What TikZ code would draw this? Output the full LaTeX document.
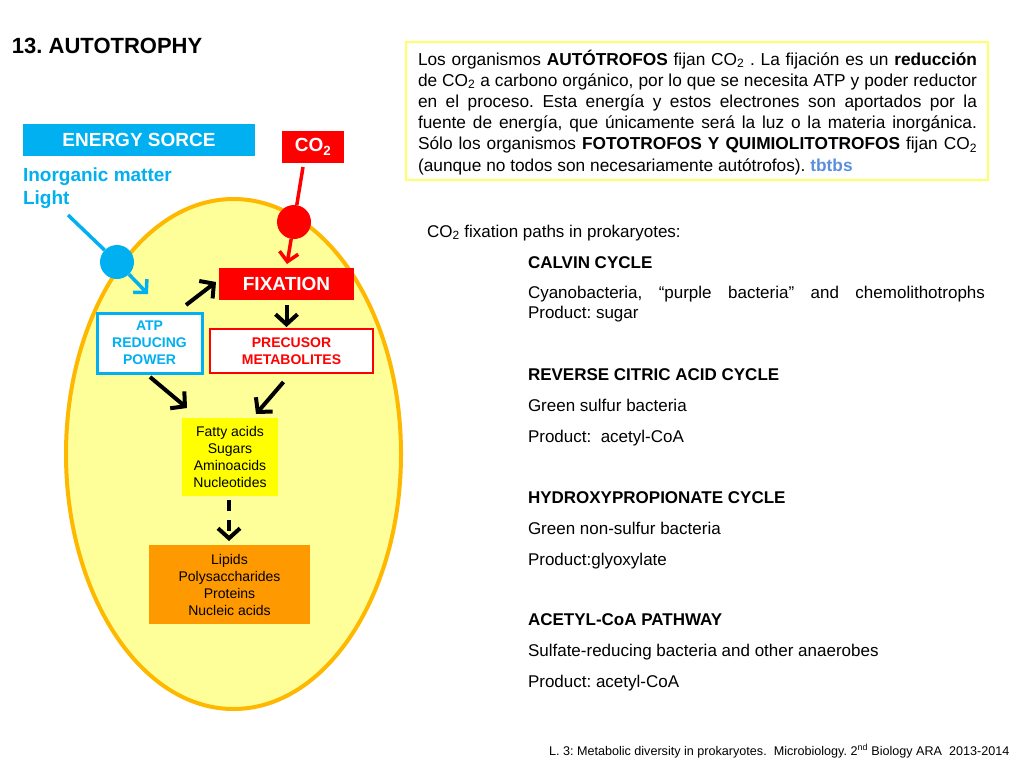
\documentclass[tikz,border=0pt]{standalone}
\usepackage{fontspec}
\setmainfont{Liberation Sans}
\usetikzlibrary{arrows.meta}
\definecolor{cyanb}{HTML}{00B0F0}
\definecolor{redb}{HTML}{FF0000}
\definecolor{ellfill}{HTML}{FFFF99}
\definecolor{ellborder}{HTML}{FFB800}
\definecolor{yel}{HTML}{FFFF00}
\definecolor{orng}{HTML}{FF9900}
\definecolor{boxborder}{HTML}{FFFF66}
\definecolor{tbc}{HTML}{5B8FDD}
\newcommand{\fs}[2]{\fontsize{#1}{#2}\selectfont}
\frenchspacing
\begin{document}
\begin{tikzpicture}[x=1pt,y=-1pt,
  every node/.style={inner sep=0pt,outer sep=0pt},
  hdrbox/.style={fill=#1,text=white,font=\fs{19}{22}\bfseries,minimum height=32pt},
  smallbox/.style={font=\fs{14}{17}\bfseries,align=center},
  listtxt/.style={anchor=base west,font=\fs{17}{20}},
  boxtxt/.style={anchor=base west,font=\fs{17.3}{21}},
  blkarrow/.style={line width=4pt,-{Straight Barb[length=10pt,width=22pt,line width=4pt]}},
  colarrow/.style={line width=3.5pt,#1,-{Straight Barb[length=9pt,width=19pt,line width=3.5pt]}},
  dot/.style={circle,fill=#1,minimum size=34pt}
]
\useasboundingbox (0,0) rectangle (1024,768);
\fill[white] (0,0) rectangle (1024,768);

% title
\node[anchor=base west,font=\fs{22}{26}\bfseries] (title) at (12,54) {13. AUTOTROPHY};

% cell
\draw[ellborder,line width=4pt,fill=ellfill] (233.5,454) ellipse [x radius=167.5pt,y radius=255pt];

% energy source
\node[hdrbox=cyanb,minimum width=232pt] (energy) at (139,140) {ENERGY SORCE};
\node[anchor=base west,font=\fs{19}{23}\bfseries,text=cyanb] (inorg) at (23,181) {Inorganic matter};
\node[anchor=base west,font=\fs{19}{23}\bfseries,text=cyanb] (light) at (23,204) {Light};

% CO2
\node[hdrbox=redb,minimum width=62pt] (co2) at (313,147) {CO\textsubscript{2}};

% circles
\node[dot=cyanb] (bc) at (117,262) {};
\node[dot=redb] (rc) at (294,222) {};

% boxes
\node[hdrbox=redb,minimum width=135pt] (fix) at (286.5,284) {FIXATION};
\node[smallbox,draw=cyanb,line width=3pt,fill=white,text=cyanb,minimum width=105pt,minimum height=60pt] (atp) at (149.5,343) {ATP\\REDUCING\\POWER};
\node[smallbox,draw=redb,line width=2.5pt,fill=white,text=redb,minimum width=163pt,minimum height=44pt] (prec) at (291.5,351) {PRECUSOR\\METABOLITES};
\node[font=\fs{14}{17},align=center,fill=yel,minimum width=96pt,minimum height=78pt] (fatty) at (230,457) {Fatty acids\\Sugars\\Aminoacids\\Nucleotides};
\node[font=\fs{14}{17},align=center,fill=orng,minimum width=161pt,minimum height=79pt] (lipids) at (229.5,584.5) {Lipids\\Polysaccharides\\Proteins\\Nucleic acids};

% connectors
\coordinate (lstart) at (68,215);
\coordinate (atpin) at (148,294);
\draw[cyanb,line width=3.5pt] (lstart) -- (bc);
\draw[colarrow=cyanb] (bc) -- (atpin);
\draw[redb,line width=3.5pt] ([xshift=-10pt,yshift=-4pt]co2.south) -- (rc);
\draw[colarrow=redb] (rc) -- ([xshift=0.5pt,yshift=4pt]fix.north);
\draw[blkarrow] ([xshift=-16pt,yshift=8pt]atp.north east) -- ([xshift=-3pt,yshift=2pt]fix.west);
\draw[blkarrow] ([yshift=-5pt]fix.south) -- ([yshift=2pt]fix.south |- prec.north);
\draw[blkarrow] ([xshift=0.5pt,yshift=-4pt]atp.south) -- ([xshift=5pt,yshift=10pt]fatty.north west);
\draw[blkarrow] ([xshift=-8pt,yshift=-9pt]prec.south) -- ([xshift=-22pt,yshift=4pt]fatty.north east);
\draw[blkarrow,dash pattern=on 11pt off 9pt] ([xshift=-1pt,yshift=-4pt]fatty.south) -- ([xshift=-1pt,yshift=4pt]fatty.south |- lipids.north);

% text box
\node[draw=boxborder,line width=1.5pt,minimum width=582pt,minimum height=138pt] (tbox) at (697,111) {};
\node[boxtxt] (t1) at (418,65) {\makebox[559pt][s]{Los organismos \textbf{AUTÓTROFOS} fijan CO\textsubscript{2} . La fijación es un \textbf{reducción}}};
\node[boxtxt] (t2) at (418,86.2) {\makebox[559pt][s]{de CO\textsubscript{2} a carbono orgánico, por lo que se necesita ATP y poder reductor}};
\node[boxtxt] (t3) at (418,107.4) {\makebox[559pt][s]{en el proceso. Esta energía y estos electrones son aportados por la}};
\node[boxtxt] (t4) at (418,128.6) {\makebox[559pt][s]{fuente de energía, que únicamente será la luz o la materia inorgánica.}};
\node[boxtxt] (t5) at (418,149.8) {\makebox[559pt][s]{Sólo los organismos \textbf{FOTOTROFOS Y QUIMIOLITOTROFOS} fijan CO\textsubscript{2}}};
\node[boxtxt] (t6) at (418,171) {(aunque no todos son necesariamente autótrofos). \textcolor{tbc}{\textbf{tbtbs}}};

% list
\node[listtxt] (l0) at (427,237) {CO\textsubscript{2} fixation paths in prokaryotes:};
\node[listtxt] (l1) at (528,268) {\textbf{CALVIN CYCLE}};
\node[listtxt] (l2) at (528,298) {\makebox[457pt][s]{Cyanobacteria, “purple bacteria” and chemolithotrophs}};
\node[listtxt] (l3) at (528,318) {Product: sugar};
\node[listtxt] (l4) at (528,380) {\textbf{REVERSE CITRIC ACID CYCLE}};
\node[listtxt] (l5) at (528,411) {Green sulfur bacteria};
\node[listtxt] (l6) at (528,442) {Product:\ \ acetyl-CoA};
\node[listtxt] (l7) at (528,503) {\textbf{HYDROXYPROPIONATE CYCLE}};
\node[listtxt] (l8) at (528,534) {Green non-sulfur bacteria};
\node[listtxt] (l9) at (528,565) {Product:glyoxylate};
\node[listtxt] (l10) at (528,625) {\textbf{ACETYL-CoA PATHWAY}};
\node[listtxt] (l11) at (528,656) {Sulfate-reducing bacteria and other anaerobes};
\node[listtxt] (l12) at (528,687) {Product: acetyl-CoA};

% footer
\node[anchor=base west,font=\fs{12.6}{14}] (foot) at (549,755) {L. 3: Metabolic diversity in prokaryotes.\ \ Microbiology. 2\textsuperscript{nd} Biology ARA\ \ 2013-2014};
\end{tikzpicture}
\end{document}
